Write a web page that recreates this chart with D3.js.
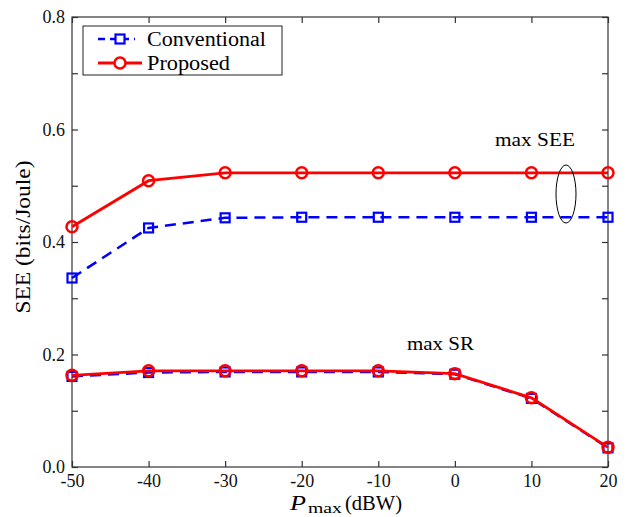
<!DOCTYPE html>
<html><head><meta charset="utf-8">
<script src="https://cdn.jsdelivr.net/npm/d3@7"></script>
<style>body{margin:0;background:#fff}</style>
</head><body>
<svg id="c" width="630" height="517"></svg>
<script>
const xValues = [-50, -40, -30, -20, -10, 0, 10, 20];
const convSEE = [0.336, 0.425, 0.443, 0.444, 0.444, 0.444, 0.444, 0.444];
const propSEE = [0.427, 0.509, 0.523, 0.523, 0.523, 0.523, 0.523, 0.523];
const convSR  = [0.161, 0.168, 0.169, 0.169, 0.169, 0.165, 0.122, 0.034];
const propSR  = [0.163, 0.171, 0.171, 0.171, 0.171, 0.166, 0.123, 0.035];
const yTicks = [0, 0.1, 0.2, 0.3, 0.4, 0.5, 0.6, 0.7, 0.8];
const yLabels = ["0.0", "", "0.2", "", "0.4", "", "0.6", "", "0.8"];
const seriesNames = ["Conventional", "Proposed"];

const svg = d3.select("#c");
const L = 72, R = 608, T = 17, B = 467;
const font = "Liberation Serif, DejaVu Serif, serif";
const x = d3.scaleLinear().domain([-50, 20]).range([L, R]);
const y = d3.scaleLinear().domain([0, 0.8]).range([B, T]);

svg.append("rect").attr("x", L).attr("y", T).attr("width", R - L).attr("height", B - T)
  .attr("fill", "none").attr("stroke", "#333").attr("stroke-width", 1.2);
const gx = svg.append("g").attr("transform", `translate(0,${B})`)
  .call(d3.axisBottom(x).tickValues(xValues).tickSize(-6).tickPadding(7).tickFormat(d3.format("d")));
const gxt = svg.append("g").attr("transform", `translate(0,${T})`)
  .call(d3.axisTop(x).tickValues(xValues).tickSize(-6).tickFormat(""));
const gy = svg.append("g").attr("transform", `translate(${L},0)`)
  .call(d3.axisLeft(y).tickValues(yTicks).tickSize(-6).tickPadding(7).tickFormat((d, i) => yLabels[i]));
const gyr = svg.append("g").attr("transform", `translate(${R},0)`)
  .call(d3.axisRight(y).tickValues(yTicks).tickSize(-6).tickFormat(""));
[gx, gxt, gy, gyr].forEach(g => {
  g.select(".domain").remove();
  g.selectAll("line").attr("stroke", "#333").attr("stroke-width", 1.2);
  g.selectAll("text").attr("font-family", font).attr("font-size", 18).attr("fill", "#111");
});
gx.selectAll("text").text(d => d3.format("d")(d).replace("−", "-"));

const line = d3.line().x((d, i) => x(xValues[i])).y(d => y(d));
function drawConv(vals) {
  svg.append("path").datum(vals).attr("d", line).attr("fill", "none")
    .attr("stroke", "#0000ff").attr("stroke-width", 2.5).attr("stroke-dasharray", "11,7");
  svg.append("g").selectAll("rect").data(vals).join("rect")
    .attr("x", (d, i) => x(xValues[i]) - 4.5).attr("y", d => y(d) - 4.5)
    .attr("width", 9).attr("height", 9).attr("fill", "none")
    .attr("stroke", "#0000ff").attr("stroke-width", 2.2);
}
function drawProp(vals) {
  svg.append("path").datum(vals).attr("d", line).attr("fill", "none")
    .attr("stroke", "#ff0000").attr("stroke-width", 2.8);
  svg.append("g").selectAll("circle").data(vals).join("circle")
    .attr("cx", (d, i) => x(xValues[i])).attr("cy", d => y(d)).attr("r", 5.5)
    .attr("fill", "none").attr("stroke", "#ff0000").attr("stroke-width", 2.5);
}
drawConv(convSEE); drawConv(convSR);
drawProp(propSEE); drawProp(propSR);

// annotations
svg.append("text").attr("x", 495).attr("y", 146)
  .attr("font-family", font).attr("font-size", 19)
  .attr("textLength", 80).attr("lengthAdjust", "spacingAndGlyphs").text("max SEE");
svg.append("ellipse").attr("cx", 566).attr("cy", 194).attr("rx", 10).attr("ry", 29)
  .attr("fill", "none").attr("stroke", "#000").attr("stroke-width", 1);
svg.append("text").attr("x", 407).attr("y", 350)
  .attr("font-family", font).attr("font-size", 19)
  .attr("textLength", 67).attr("lengthAdjust", "spacingAndGlyphs").text("max SR");

// legend
const lg = svg.append("g");
lg.append("rect").attr("x", 83).attr("y", 26).attr("width", 199).attr("height", 49)
  .attr("fill", "#fff").attr("stroke", "#222").attr("stroke-width", 1);
const ly = [39, 63];
const lw = [119, 83];
lg.append("line").attr("x1", 98).attr("x2", 135).attr("y1", ly[0]).attr("y2", ly[0])
  .attr("stroke", "#0000ff").attr("stroke-width", 2.5).attr("stroke-dasharray", "7,5");
lg.append("rect").attr("x", 120 - 4.5).attr("y", ly[0] - 4.5).attr("width", 9).attr("height", 9)
  .attr("fill", "#fff").attr("stroke", "#0000ff").attr("stroke-width", 2.2);
lg.append("line").attr("x1", 98).attr("x2", 142).attr("y1", ly[1]).attr("y2", ly[1])
  .attr("stroke", "#ff0000").attr("stroke-width", 2.8);
lg.append("circle").attr("cx", 120).attr("cy", ly[1]).attr("r", 5.5)
  .attr("fill", "#fff").attr("stroke", "#ff0000").attr("stroke-width", 2.5);
seriesNames.forEach((n, i) => {
  lg.append("text").attr("x", 147).attr("y", ly[i] + 7)
    .attr("font-family", font).attr("font-size", 20)
    .attr("textLength", lw[i]).attr("lengthAdjust", "spacingAndGlyphs").text(n);
});

// axis titles
const xt = svg.append("g").attr("font-family", font);
xt.append("text").attr("x", 290).attr("y", 510).attr("font-style", "italic").attr("font-size", 22)
  .attr("textLength", 16).attr("lengthAdjust", "spacingAndGlyphs").text("P");
xt.append("text").attr("x", 308).attr("y", 513).attr("font-size", 15)
  .attr("textLength", 34).attr("lengthAdjust", "spacingAndGlyphs").text("max");
xt.append("text").attr("x", 345).attr("y", 510).attr("font-size", 20)
  .attr("textLength", 57).attr("lengthAdjust", "spacingAndGlyphs").text("(dBW)");
svg.append("text").attr("transform", "translate(30,237) rotate(-90)").attr("text-anchor", "middle")
  .attr("font-family", font).attr("font-size", 20)
  .attr("textLength", 153).attr("lengthAdjust", "spacingAndGlyphs").text("SEE (bits/Joule)");
</script>
</body></html>
